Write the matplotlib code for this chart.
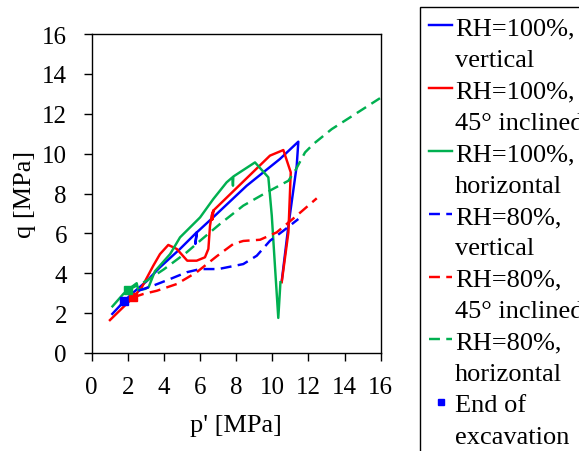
import matplotlib
matplotlib.use("Agg")
import matplotlib.pyplot as plt
from matplotlib.lines import Line2D

plt.rcParams['font.family'] = ['Liberation Serif', 'DejaVu Serif']
plt.rcParams['mathtext.fontset'] = 'stix'

# RH=100%, vertical (solid blue)
p_100_vert = [1.14, 1.81, 2.31, 3.04, 3.78, 4.89, 5.81, 5.74, 5.82, 6.73, 8.58, 10.42, 11.44, 11.35, 10.89, 10.52]
q_100_vert = [1.96, 2.61, 3.04, 3.60, 4.30, 5.22, 6.05, 5.47, 6.05, 6.81, 8.39, 9.73, 10.60, 9.39, 6.38, 3.60]

# RH=100%, 45 deg inclined (solid red)
p_100_incl = [1.01, 2.30, 2.77, 3.41, 3.78, 4.24, 4.71, 5.29, 5.81, 6.27, 6.46, 6.55, 6.64, 6.73, 6.68, 6.73, 9.87, 10.61, 11.02, 10.89, 10.52]
q_100_incl = [1.65, 2.79, 3.29, 4.38, 4.96, 5.42, 5.22, 4.63, 4.63, 4.80, 5.22, 6.38, 6.89, 7.14, 6.70, 7.14, 9.90, 10.18, 9.06, 6.05, 3.55]

# RH=100%, horizontal (solid green)
p_100_hor = [1.15, 1.75, 1.99, 2.49, 2.58, 2.95, 3.15, 3.50, 4.34, 4.89, 6.00, 6.73, 7.47, 7.79, 7.82, 7.84, 9.04, 9.78, 9.97, 10.15, 10.33, 10.45]
q_100_hor = [2.34, 2.96, 3.16, 3.50, 3.16, 3.21, 3.30, 4.10, 4.96, 5.80, 6.80, 7.72, 8.56, 8.81, 8.39, 8.85, 9.56, 8.81, 6.89, 4.30, 1.76, 3.55]

# RH=80%, vertical (dashed blue)
p_80_vert = [1.81, 2.58, 3.41, 4.34, 5.26, 6.00, 7.01, 8.39, 9.14, 9.87, 10.61, 11.44]
q_80_vert = [2.61, 3.12, 3.38, 3.71, 4.05, 4.21, 4.21, 4.46, 4.88, 5.63, 6.13, 6.72]

# RH=80%, 45 deg inclined (dashed red)
p_80_incl = [2.30, 2.86, 3.60, 4.71, 5.81, 6.92, 7.84, 8.39, 9.32, 10.24, 11.35, 12.46]
q_80_incl = [2.79, 2.96, 3.12, 3.46, 4.05, 4.85, 5.47, 5.62, 5.68, 6.05, 6.89, 7.76]

# RH=80%, horizontal (dashed green)
p_80_hor = [1.99, 3.04, 4.00, 5.26, 6.00, 7.10, 8.39, 9.69, 10.89, 11.30, 11.81, 12.27, 13.29, 15.96]
q_80_hor = [3.16, 3.62, 4.20, 5.05, 5.63, 6.47, 7.39, 8.06, 8.64, 9.20, 10.06, 10.48, 11.23, 12.78]

# End of excavation markers
end_p = [1.81, 2.30, 1.99]
end_q = [2.61, 2.79, 3.16]

labels = ["RH=100%,", "vertical", "RH=100%,", "45° inclined", "RH=100%,", "horizontal",
          "RH=80%,", "vertical", "RH=80%,", "45° inclined", "RH=80%,", "horizontal",
          "End of", "excavation"]

BLUE = '#0000FF'
RED = '#FF0000'
GREEN = '#00B050'

fig = plt.figure(figsize=(5.79, 4.52), dpi=100)
ax = fig.add_axes([91.7/579, 1-354/452, (380.7-91.7)/579, (354-35)/452])

lw = 1.75
dash = (4.5, 2.6)
ax.plot(p_100_vert, q_100_vert, color=BLUE, lw=lw)
ax.plot(p_100_incl, q_100_incl, color=RED, lw=lw)
ax.plot(p_100_hor, q_100_hor, color=GREEN, lw=lw)
ax.plot(p_80_vert, q_80_vert, color=BLUE, lw=lw, linestyle=(0, dash))
ax.plot(p_80_incl, q_80_incl, color=RED, lw=lw, linestyle=(0, dash))
ax.plot(p_80_hor, q_80_hor, color=GREEN, lw=lw, linestyle=(0, dash))
for p, q, c in zip(end_p, end_q, [BLUE, RED, GREEN]):
    ax.plot([p], [q], 's', color=c, markersize=5.5, zorder=5)

ax.set_xlim(0, 16)
ax.set_ylim(0, 16)
ax.set_xticks(range(0, 17, 2))
ax.set_yticks(range(0, 17, 2))
ax.tick_params(direction='out', length=5.8, width=1, labelsize=18, pad=11)
ax.tick_params(axis='y', pad=12)
ax.set_xlabel("p' [MPa]", fontsize=19, labelpad=11)
ax.set_ylabel("q [MPa]", fontsize=19, labelpad=4)
for s in ax.spines.values():
    s.set_linewidth(1)

blank = Line2D([], [], linestyle='none')
handles = [
    Line2D([], [], color=BLUE, lw=lw), blank,
    Line2D([], [], color=RED, lw=lw), blank,
    Line2D([], [], color=GREEN, lw=lw), blank,
    Line2D([], [], color=BLUE, lw=lw, linestyle=(0, dash)), blank,
    Line2D([], [], color=RED, lw=lw, linestyle=(0, dash)), blank,
    Line2D([], [], color=GREEN, lw=lw, linestyle=(0, dash)), blank,
    Line2D([], [], color=BLUE, marker='s', linestyle='none', markersize=4), blank,
]
leg = fig.legend(handles, labels, loc='upper left', bbox_to_anchor=(420/579, 1-8/452),
                 bbox_transform=fig.transFigure, fontsize=19, frameon=True, fancybox=False,
                 edgecolor='black', framealpha=1, borderaxespad=0, borderpad=0.35,
                 handlelength=0.87, handletextpad=0.1, labelspacing=0.3)
leg.get_frame().set_linewidth(1)

fig.savefig('out.png', dpi=100)
